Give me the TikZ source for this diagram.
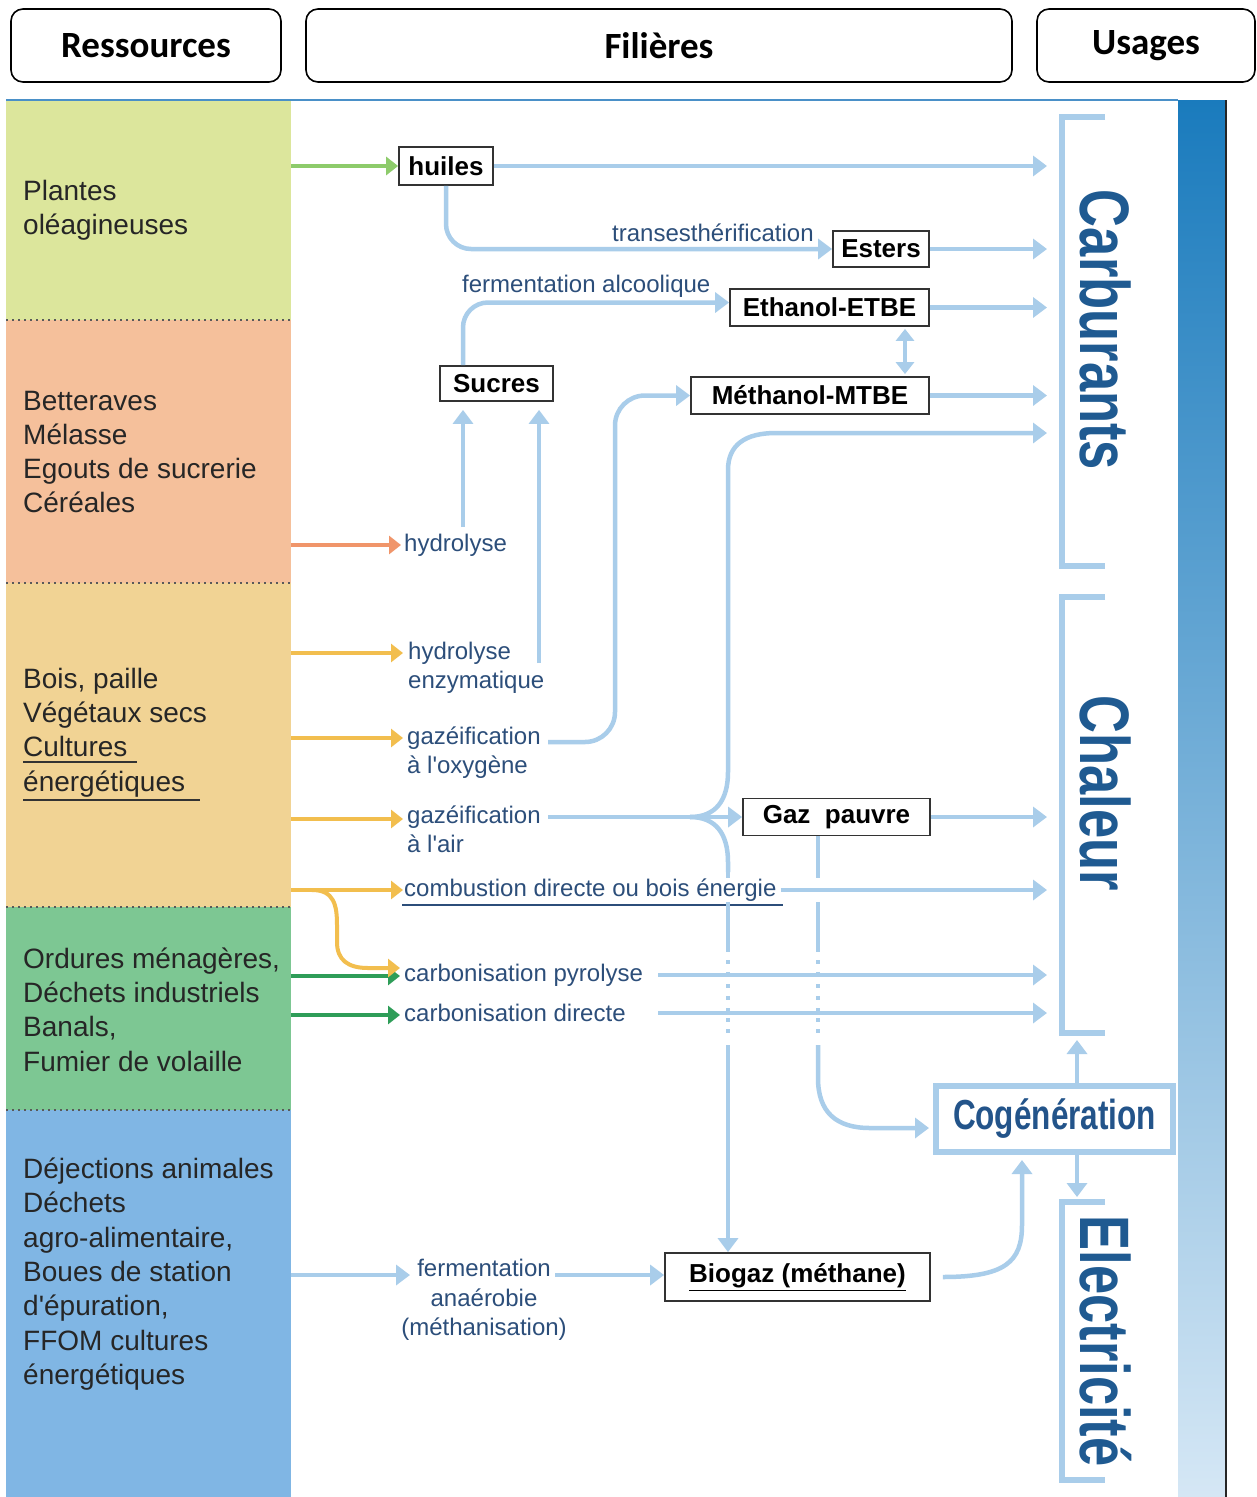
\documentclass[tikz,border=0pt]{standalone}
\usepackage{fontspec}
\setmainfont{Liberation Sans}[Ligatures=TeXOff]
\newfontfamily\hdfont{Carlito}
\newfontfamily\condfont[FakeStretch=0.75]{Liberation Sans}
\usetikzlibrary{arrows.meta}
\definecolor{cA}{HTML}{DCE69C}
\definecolor{cB}{HTML}{F5C09B}
\definecolor{cC}{HTML}{F1D394}
\definecolor{cD}{HTML}{7DC793}
\definecolor{cE}{HTML}{80B6E4}
\definecolor{lb}{HTML}{A9CDEA}
\definecolor{lab}{HTML}{2C4E7A}
\definecolor{usg}{HTML}{1F5A91}
\definecolor{cogt}{HTML}{23548A}
\definecolor{agreen}{HTML}{8DCB6B}
\definecolor{aorange}{HTML}{F0956A}
\definecolor{ayellow}{HTML}{F2BE4E}
\definecolor{adgreen}{HTML}{2E9D58}
\definecolor{gtop}{HTML}{1A7BBD}
\definecolor{gmid}{HTML}{86B8E0}
\definecolor{gbot}{HTML}{D5E7F5}
\definecolor{topl}{HTML}{4A90C8}
\begin{document}
\begin{tikzpicture}[x=1pt,y=-1pt,
  hdr/.style={draw=black,line width=1.6pt,rounded corners=12pt,minimum height=73pt,inner sep=0pt,font=\hdfont\bfseries\fontsize{37}{40}\selectfont},
  band/.style={inner sep=0pt,outer sep=0pt,minimum width=285pt,anchor=north west},
  res/.style={anchor=west,align=left,inner sep=0pt,text=black!85,font=\fontsize{28}{34.3}\selectfont},
  lbl/.style={anchor=west,align=left,inner sep=0pt,text=lab,font=\fontsize{24}{29.5}\selectfont},
  box/.style={draw=black!80,line width=1.8pt,fill=white,inner sep=0pt,font=\bfseries\fontsize{26}{28}\selectfont},
  usage/.style={rotate=-90,text=usg,inner sep=0pt,font=\condfont\bfseries\fontsize{70}{70}\selectfont},
  brk/.style={draw=lb,line width=6pt},
  flow/.style={draw=lb,line width=4.5pt,-{Triangle[length=14pt,width=20pt]}},
  dbl/.style={draw=lb,line width=4.5pt,{Triangle[length=12pt,width=18pt]}-{Triangle[length=12pt,width=18pt]}},
  flowline/.style={draw=lb,line width=4.5pt},
  dashy/.style={draw=lb,line width=4.5pt,dash pattern=on 6pt off 24pt on 50pt off 8pt on 4pt off 8pt on 4pt off 8pt on 4pt off 8pt on 4pt off 8pt on 4pt off 6pt on 4pt off 7pt on 4pt off 20pt},
  src/.style={line width=4pt,-{Triangle[length=12pt,width=18pt]}},
  sep/.style={draw=black!65,line width=1.6pt,dash pattern=on 1.6pt off 4.4pt},
]
\useasboundingbox (0,0) rectangle (1257,1497);
\fill[white] (0,0) rectangle (1257,1497);

% headers
\node[hdr,minimum width=270pt] (hres) at (146,45.5) {Ressources};
\node[hdr,minimum width=706pt] (hfil) at (659,45.5) {Filières};
\node[hdr,minimum width=218pt] (huse) at (1146,45.5) {Usages};

% resource bands
\node[band,fill=cA,minimum height=219pt] (r1) at (6,101) {};
\node[band,fill=cB,minimum height=263pt] (r2) at (6,320) {};
\node[band,fill=cC,minimum height=324pt] (r3) at (6,583) {};
\node[band,fill=cD,minimum height=203pt] (r4) at (6,907) {};
\node[band,fill=cE,minimum height=387pt] (r5) at (6,1110) {};
\draw[sep] (r1.south west) -- (r1.south east);
\draw[sep] (r2.south west) -- (r2.south east);
\draw[sep] (r3.south west) -- (r3.south east);
\draw[sep] (r4.south west) -- (r4.south east);

% right bar
\shade[top color=gtop,middle color=gmid,bottom color=gbot] (1178,100) rectangle (1225,1497);
\draw[black!85,line width=2pt] (1226,100) -- (1226,1497);
\draw[topl,line width=2pt] (6,100) -- (1178,100);

% resource texts
\node[res] (t1) at (23,210) {Plantes\\oléagineuses};
\node[res] (t2) at (23,452) {Betteraves\\Mélasse\\Egouts de sucrerie\\Céréales};
\node[res] (t3) at (23,732.5) {Bois, paille\\Végétaux secs\\Cultures\\énergétiques};
\draw[black!80,line width=1.5pt] (23,762) -- (137,762);
\draw[black!80,line width=1.5pt] (23,800) -- (200,800);
\node[res] (t4) at (23,1009.5) {Ordures ménagères,\\Déchets industriels\\Banals,\\Fumier de volaille};
\node[res] (t5) at (23,1274) {Déjections animales\\Déchets\\agro-alimentaire,\\Boues de station\\d'épuration,\\FFOM cultures\\énergétiques};

% usage brackets and labels
\draw[brk] (1105,117) -- (1062,117) -- (1062,566) -- (1105,566);
\draw[brk] (1105,597) -- (1062,597) -- (1062,1033) -- (1105,1033);
\draw[brk] (1105,1202) -- (1062,1202) -- (1062,1480) -- (1105,1480);
\node[usage] (carb) at (1106,330) {Carburants};
\node[usage] (chal) at (1106,793) {Chaleur};
\node[usage] (elec) at (1106,1341) {Electricité};

% process boxes
\node[box,minimum width=94pt,minimum height=38pt] (huiles) at (446,166) {huiles};
\node[box,minimum width=96pt,minimum height=36pt] (esters) at (881,249) {Esters};
\node[box,minimum width=199pt,minimum height=37pt] (ethanol) at (829.5,307.5) {Ethanol-ETBE};
\node[box,minimum width=113pt,minimum height=35pt] (sucres) at (496.5,383.5) {Sucres};
\node[box,minimum width=238pt,minimum height=37pt] (methanol) at (810,395.5) {Méthanol-MTBE};
\node[box,minimum width=187pt,minimum height=37pt] (gaz) at (836.5,817) {Gaz\ \ pauvre};
\node[box,minimum width=265pt,minimum height=48pt] (biogaz) at (797.5,1277) {\underline{Biogaz (méthane)}};
\node[draw=lb,line width=6pt,fill=white,minimum width=237pt,minimum height=66pt,inner sep=0pt,text=cogt,font=\condfont\bfseries\fontsize{42}{44}\selectfont] (cogen) at (1054.5,1119) {Cogénération};

% process labels
\node[lbl] (ltrans) at (612,233) {transesthérification};
\node[lbl] (lalc) at (462,286) {fermentation alcoolique};
\node[lbl] (lhyd) at (404,545) {hydrolyse};
\node[lbl] (lenz) at (408,668) {hydrolyse\\enzymatique};
\node[lbl] (lox) at (407,752.5) {gazéification\\à l'oxygène};
\node[lbl] (lair) at (407,829.5) {gazéification\\à l'air};
\node[lbl] (lcomb) at (404,890) {combustion directe ou bois énergie};
\draw[lab,line width=2pt] (402,905) -- (783,905);
\node[lbl] (lpyr) at (404,975) {carbonisation pyrolyse};
\node[lbl] (ldir) at (404,1013) {carbonisation directe};
\node[lbl,anchor=center,align=center] (lferm) at (484,1300) {fermentation\\anaérobie\\(méthanisation)};

% helper coordinates
\coordinate (ux) at (1047,0);
\coordinate (sx) at (463,0);
\coordinate (sx2) at (539,0);
\coordinate (dx) at (905,0);
\coordinate (kx) at (615,0);
\coordinate (bx) at (728,0);
\coordinate (gx) at (818,0);
\coordinate (cs) at (658,0);
\coordinate (cx) at (1022,0);
\coordinate (cgx) at (1077,0);
\coordinate (h1) at (463,527);
\coordinate (e1) at (539,663);
\coordinate (ox) at (548,742);
\coordinate (air) at (548,817);
\coordinate (br) at (690,817);
\coordinate (u5) at (1047,433);
\coordinate (d1) at (728,872);
\coordinate (d2) at (728,1045);
\coordinate (g1) at (818,872);
\coordinate (g2) at (818,1045);
\coordinate (g3) at (0,1128);
\coordinate (chb) at (1077,1040);
\coordinate (elt) at (1077,1197);
\coordinate (fe1) at (410,1275);
\coordinate (fe2) at (555,1275);
\coordinate (y1) at (403,653);
\coordinate (y2) at (403,738);
\coordinate (y3) at (403,819);
\coordinate (y4) at (403,890);
\coordinate (yc) at (312,890);
\coordinate (y5) at (400,968);
\coordinate (g5) at (400,976);
\coordinate (g6) at (400,1015);

% source arrows
\draw[src,agreen] (r1.east |- huiles.west) -- (huiles.west);
\draw[src,aorange,shorten >=3pt] (r2.east |- lhyd.west) -- (lhyd.west);
\draw[src,ayellow] (r3.east |- y1) -- (y1);
\draw[src,ayellow] (r3.east |- y2) -- (y2);
\draw[src,ayellow] (r3.east |- y3) -- (y3);
\draw[src,ayellow] (r3.east |- y4) -- (y4);
\draw[src,adgreen] (r4.east |- g5) -- (g5);
\draw[src,adgreen] (r4.east |- g6) -- (g6);
\draw[src,ayellow] (yc) .. controls (334,890) and (337,905) .. (337,925) -- (337,942) .. controls (337,960) and (348,968) .. (368,968) -- (y5);
\draw[flow] (r5.east |- fe1) -- (fe1);

% blue flows
\draw[flow] (huiles.east) -- (huiles.east -| ux);
\draw[flow,rounded corners=25pt] (huiles.south) |- (esters.west);
\draw[flow] (esters.east) -- (esters.east -| ux);
\draw[flow,rounded corners=25pt] (sucres.north -| sx) |- ([yshift=5pt]ethanol.west);
\draw[flow] (ethanol.east) -- (ethanol.east -| ux);
\draw[dbl,shorten <=2pt,shorten >=2pt] (ethanol.south -| dx) -- (methanol.north -| dx);
\draw[flow] (methanol.east) -- (methanol.east -| ux);
\draw[flow,shorten >=8pt] (h1) -- (sucres.south -| sx);
\draw[flow,shorten >=8pt] (e1) -- (sucres.south -| sx2);
\draw[flow,rounded corners=30pt] (ox) -| (kx |- methanol.west) -- (methanol.west);
\draw[flow] (air) -- (gaz.west);
\draw[flow] (br) .. controls (716,817) and (728,800) .. (728,772) -- (728,470) .. controls (728,445) and (745,433) .. (776,433) -- (u5);
\draw[flowline] (br) .. controls (716,817) and (728,834) .. (728,862) -- (d1);
\draw[dashy] (d1) -- (d2);
\draw[flow] (d2) -- (biogaz.north -| bx);
\draw[flow] (gaz.east) -- (gaz.east -| ux);
\draw[flow] ([xshift=4pt]lcomb.east) -- (lcomb.east -| ux);
\draw[flow] (lpyr.east -| cs) -- (lpyr.east -| ux);
\draw[flow] (ldir.east -| cs) -- (ldir.east -| ux);
\draw[flowline] (gaz.south -| gx) -- (g1);
\draw[dashy] (g1) -- (g2);
\draw[flow,shorten >=4pt] (g2) -- (818,1078) .. controls (818,1112) and (836,1128) .. (870,1128) -- (cogen.west |- g3);
\draw[flow,shorten >=5pt] ([xshift=12pt]biogaz.east) .. controls (1005,1277) and (1022,1262) .. (1022,1225) -- (cogen.south -| cx);
\draw[flow] (cogen.north -| cgx) -- (chb);
\draw[flow] (cogen.south -| cgx) -- (elt);
\draw[flow] (fe2) -- (biogaz.west |- fe2);
\end{tikzpicture}
\end{document}
